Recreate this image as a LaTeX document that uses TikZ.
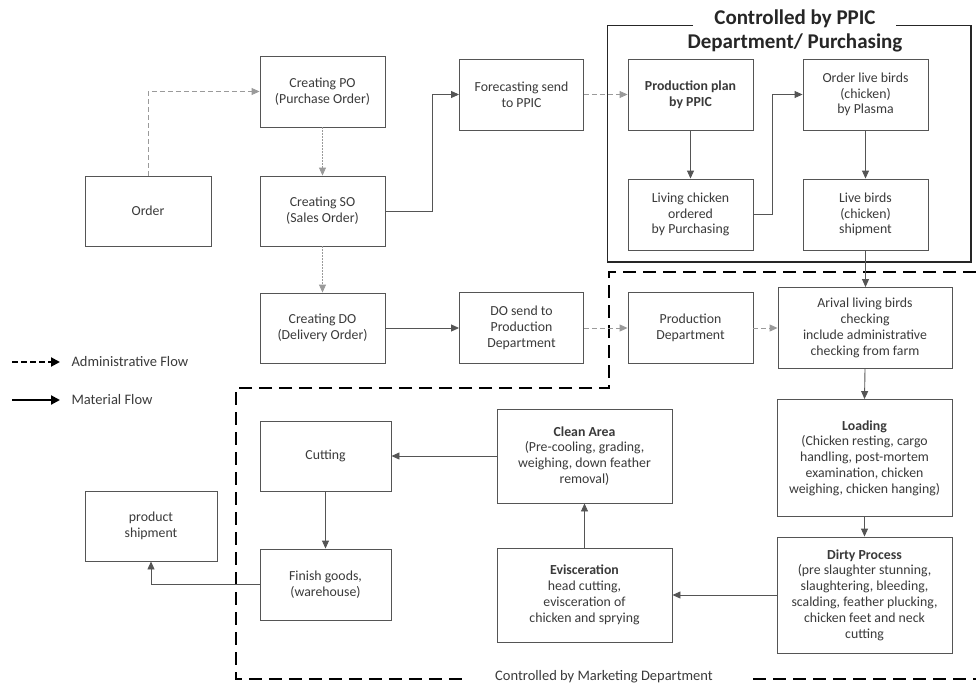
\documentclass[tikz,border=0pt]{standalone}
\usepackage{fontspec}
\setmainfont{Carlito}
\usetikzlibrary{arrows.meta,calc}
\definecolor{bordc}{HTML}{555555}
\definecolor{txtc}{HTML}{3A3A3A}
\definecolor{admc}{HTML}{9A9A9A}
\tikzset{
  box/.style={draw=bordc, line width=0.9pt, fill=white, align=center, text=txtc,
    inner sep=2pt, font=\fontsize{13.8}{15.8}\selectfont},
  tip/.style={-{Triangle[length=8pt,width=7pt]}},
  matflow/.style={tip, draw=bordc, line width=0.9pt},
  admflow/.style={tip, draw=admc, line width=0.9pt, dash pattern=on 5pt off 3pt},
  dotflow/.style={tip, draw=admc, line width=0.9pt, dash pattern=on 1.5pt off 1.5pt},
  regionline/.style={draw=black, line width=1.6pt, dash pattern=on 13pt off 7pt},
  titletext/.style={font=\fontsize{21}{24}\selectfont\bfseries, text=black!85},
  notetext/.style={font=\fontsize{14.5}{17}\selectfont, text=txtc},
}
\begin{document}
\begin{tikzpicture}[x=1pt,y=-1pt]
\useasboundingbox (0,0) rectangle (976,686);
% boxes
\node[box, minimum width=126pt, minimum height=70pt] (order) at (148,211) {Order};
\node[box, minimum width=125pt, minimum height=71pt] (po) at (322.5,91.5) {Creating PO\\(Purchase Order)};
\node[box, minimum width=125pt, minimum height=70pt] (so) at (322.5,211) {Creating SO\\(Sales Order)};
\node[box, minimum width=125pt, minimum height=70pt] (do) at (322.5,328) {Creating DO\\(Delivery Order)};
\node[box, minimum width=124pt, minimum height=71pt] (fc) at (521.5,94.5) {Forecasting send\\to PPIC};
\node[box, minimum width=124pt, minimum height=71pt] (ds) at (521.5,328) {DO send to\\Production\\Department};
\node[box, minimum width=125pt, minimum height=71pt] (pp) at (690.5,94.5) {\textbf{Production plan}\\\textbf{by PPIC}};
\node[box, minimum width=125pt, minimum height=71pt] (olb) at (865.5,94.5) {Order live birds\\(chicken)\\by Plasma};
\node[box, minimum width=125pt, minimum height=71pt] (lc) at (690.5,214.5) {Living chicken\\ordered\\by Purchasing};
\node[box, minimum width=125pt, minimum height=71pt] (lbs) at (865.5,214.5) {Live birds\\(chicken)\\shipment};
\node[box, minimum width=125pt, minimum height=71pt] (pd) at (690.5,328) {Production\\Department};
\node[box, minimum width=174pt, minimum height=81pt] (ar) at (865,328) {Arival living birds\\checking\\include administrative\\checking from farm};
\node[box, minimum width=175pt, minimum height=117pt] (ld) at (864.5,458) {\textbf{Loading}\\(Chicken resting, cargo\\handling, post-mortem\\examination, chicken\\weighing, chicken hanging)};
\node[box, minimum width=175pt, minimum height=116pt] (dp) at (864.5,595) {\textbf{Dirty Process}\\(pre slaughter stunning,\\slaughtering, bleeding,\\scalding, feather plucking,\\chicken feet and neck\\cutting};
\node[box, minimum width=175pt, minimum height=94pt] (ca) at (584.5,456) {\textbf{Clean Area}\\(Pre-cooling, grading,\\weighing, down feather\\removal)};
\node[box, minimum width=175pt, minimum height=94pt] (ev) at (584.5,595) {\textbf{Evisceration}\\head cutting,\\evisceration of\\chicken and sprying};
\node[box, minimum width=131pt, minimum height=70pt] (cut) at (325.5,456) {Cutting};
\node[box, minimum width=131pt, minimum height=71pt] (fg) at (325.5,584.5) {Finish goods,\\(warehouse)};
\node[box, minimum width=132pt, minimum height=70pt] (ps) at (151,526) {product\\shipment};

% PPIC region
\draw[line width=1.3pt, draw=black!85] (693,25.5) -- (607.5,25.5) -- (607.5,262) -- (971,262) -- (971,25.5) -- (896,25.5);
\node[titletext] (t1) at (795,19) {Controlled by PPIC};
\node[titletext] (t2) at (795,43) {Department/ Purchasing};

% Marketing region
\draw[regionline] (976,272) -- (609,272) -- (609,388) -- (236,388) -- (236,679) -- (466,679);
\draw[regionline] (753,679) -- (976,679);
\node[notetext] (mk) at (604,677) {Controlled by Marketing Department};

% connectors
\draw[admflow] (order.north) |- (po.west);
\draw[dotflow] (po.south) -- (so.north);
\draw[dotflow] (so.south) -- (do.north);
\draw[matflow] (so.east) -- ++(47,0) |- (fc.west);
\draw[admflow] (fc.east) -- (pp.west);
\draw[matflow] (pp.south) -- (lc.north);
\draw[matflow] (lc.east) -- ++(19,0) |- (olb.west);
\draw[matflow] (olb.south) -- (lbs.north);
\draw[matflow] (lbs.south) -- (ar.north -| lbs.south);
\draw[matflow] (do.east) -- (ds.west);
\draw[admflow] (ds.east) -- (pd.west);
\draw[admflow] (pd.east) -- (ar.west);
\draw[matflow] (ar.south) -- (ld.north);
\draw[matflow] (ld.south) -- (dp.north);
\draw[matflow] (dp.west) -- (ev.east);
\draw[matflow] (ev.north) -- (ca.south);
\draw[matflow] (ca.west) -- (cut.east);
\draw[matflow] (cut.south) -- (fg.north);
\draw[matflow] (fg.west) -| (ps.south);

% legend
\coordinate (la1) at (12,362);
\coordinate (la2) at (60,362);
\coordinate (lb1) at (12,400);
\coordinate (lb2) at (60,400);
\draw[-{Triangle[length=9pt,width=9pt]}, line width=2pt, dash pattern=on 6pt off 3pt] (la1) -- (la2);
\draw[-{Triangle[length=9pt,width=9pt]}, line width=2pt] (lb1) -- (lb2);
\node[notetext, anchor=west] (lt1) at (68,362) {Administrative Flow};
\node[notetext, anchor=west] (lt2) at (68,400) {Material Flow};
\end{tikzpicture}
\end{document}
